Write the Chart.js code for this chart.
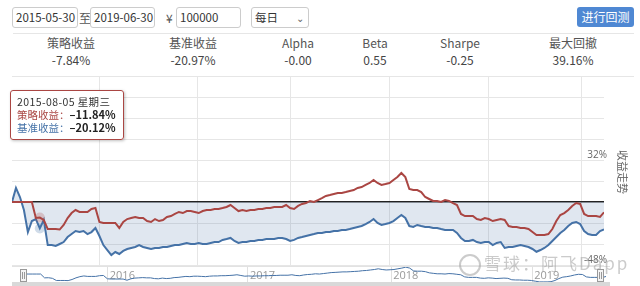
<!DOCTYPE html>
<html>
<head>
<meta charset="utf-8">
<script src="https://cdn.jsdelivr.net/npm/chart.js@4.4.0/dist/chart.umd.min.js"></script>
<style>
    body { margin: 0; width: 640px; height: 286px; overflow: hidden; background: #fff; position: relative;
           font-family: "Noto Sans CJK SC", "Open Sans", sans-serif; color: #444; }
    .box { position: absolute; top: 7px; height: 21px; line-height: 19px; border: 1px solid #ccc; border-radius: 3px;
           box-sizing: border-box; font-size: 11.5px; color: #333; padding-left: 3px; white-space: nowrap; overflow: hidden; }
    .txt { position: absolute; top: 7px; line-height: 21px; font-size: 12px; color: #555; }
    .btn { position: absolute; left: 577px; top: 7px; width: 57px; height: 20px; line-height: 20px; border-radius: 3px;
           background: #4f88d3; color: #fff; font-size: 12px; text-align: center; }
    .sep { position: absolute; left: 13px; width: 621px; height: 1px; background: #e6e6e6; }
    .stat { position: absolute; width: 100px; text-align: center; font-size: 12px; color: #555; }
    #mainWrap { position: absolute; left: 0; top: 56px; }
    #navWrap { position: absolute; left: 0; top: 262px; }
    #tip { position: absolute; left: 10px; top: 90px; padding: 4px 7px 5px 6px; background: rgba(255,255,255,0.92);
           border: 1px solid #AA4643; border-radius: 3px; box-shadow: 1px 1px 3px rgba(0,0,0,0.25);
           font-size: 10.5px; line-height: 13px; color: #333; z-index: 5; white-space: nowrap; }
    #tip b { color: #222; font-size: 11px; }
    .axisTitle { position: absolute; left: 598px; top: 164px; width: 50px; text-align: center; font-size: 11px;
                 color: #666; transform: rotate(90deg); white-space: nowrap; }
    .handle { position: absolute; top: 269px; width: 5px; height: 11px; border: 1px solid #999; background: #f4f4f4; }
    .handle:after { content: ""; position: absolute; left: 1px; top: 2px; width: 1px; height: 7px; border-left: 1px solid #999; border-right: 1px solid #999; }
    #scroll { position: absolute; left: 12px; top: 282px; width: 598px; height: 4px; background: #d9d9d9; }
    #navTop { position: absolute; left: 12px; top: 266px; width: 598px; height: 1px; background: #e2e2e2; }
    .mark { position: absolute; left: 484px; top: 250px; font-size: 17px; letter-spacing: 2px; color: rgba(160,160,160,0.55); z-index: 4; white-space: nowrap; }
    .logo { position: absolute; left: 459px; top: 254px; width: 18px; height: 18px; border: 2px solid rgba(160,160,160,0.55); border-radius: 50%; z-index: 4; }
</style>
</head>
<body>

<div class="box" style="left:12px;width:66px;">2015-05-30</div>
<div class="txt" style="left:79px;">至</div>
<div class="box" style="left:90px;width:65px;">2019-06-30</div>
<div class="txt" style="left:166px;">¥</div>
<div class="box" style="left:176px;width:65px;">100000</div>
<div class="box" style="left:251px;width:58px;">每日<span style="position:absolute;left:44px;top:0;color:#666;font-size:10px;">&#8964;</span></div>
<div class="btn">进行回测</div>

<div class="sep" style="top:33px;"></div>
<div id="stats"></div>

<div id="mainWrap"><canvas id="mainChart" width="640" height="230"></canvas></div>
<div id="navTop"></div>
<div id="navWrap"><canvas id="navChart" width="640" height="24"></canvas></div>
<div id="scroll"></div>
<div class="handle" style="left:20px;"></div>
<div class="handle" style="left:597px;"></div>

<div class="axisTitle">收益走势</div>
<div id="tip"></div>
<div class="logo"></div>
<div class="mark">雪球：阿飞Dapp</div>

<script>
// summary figures under the date inputs
const statNames = ['策略收益', '基准收益', 'Alpha', 'Beta', 'Sharpe', '最大回撤'];
const statValues = ['-7.84%', '-20.97%', '-0.00', '0.55', '-0.25', '39.16%'];

// returns in %, one sample roughly every week of trading days
const strategy = [
    0, 0, 0, 0, 0, 0, -12.2, -11.84, -13.7, -20.6,
    -20.6, -20.6, -21.0, -17.5, -12.2, -8.4, -6.1, -7.6, -7.6, -7.6,
    -5.3, -4.6, -15.2, -16.0, -16.0, -16.0, -16.0, -19.8, -15.2, -13.0,
    -12.2, -11.4, -12.2, -12.2, -14.5, -15.2, -13.0, -14.5, -13.7, -11.4,
    -10.7, -9.1, -7.6, -8.4, -6.9, -6.9, -7.6, -8.4, -6.9, -6.1,
    -6.1, -5.3, -5.3, -4.6, -3.8, -2.3, -4.6, -6.9, -6.1, -6.9,
    -6.1, -6.1, -5.3, -5.3, -4.6, -4.6, -3.8, -3.8, -3.8, -2.3,
    -4.6, -5.3, -3.0, -1.5, -0.8, 0.8, 0, 1.5, 3.0, 4.6,
    5.3, 6.1, 6.9, 6.9, 7.6, 8.4, 9.1, 10.7, 11.4, 13.0,
    14.5, 16.8, 14.5, 13.0, 13.7, 14.5, 16.8, 19.0, 22.1, 19.0,
    9.9, 9.1, 9.1, 7.6, 3.8, 2.3, 0.8, 0.8, 0, 1.5,
    0.8, -0.8, -2.3, -9.1, -10.7, -10.7, -10.7, -13.0, -13.7, -12.2,
    -13.0, -14.5, -13.7, -13.0, -13.7, -18.3, -19.0, -19.0, -19.8, -19.8,
    -20.6, -22.9, -25.1, -25.1, -25.1, -24.4, -20.6, -14.5, -9.9, -8.4,
    -6.1, -3.0, -0.8, -1.5, -9.1, -10.7, -10.7, -10.7, -11.4, -7.84
];
const benchmark = [
    0, 10.7, 3.8, -6.1, -22.9, -14.5, -13.0, -20.12, -13.7, -32.8,
    -32.8, -33.5, -32.0, -30.5, -26.7, -24.4, -22.1, -22.9, -22.1, -24.4,
    -22.9, -19.8, -25.9, -32.8, -36.6, -40.4, -38.1, -39.6, -37.3, -35.8,
    -35.0, -34.3, -32.8, -34.3, -35.0, -35.8, -35.0, -35.0, -34.3, -34.3,
    -33.5, -32.8, -32.8, -32.0, -31.2, -32.0, -32.0, -31.2, -32.0, -32.0,
    -31.2, -30.5, -30.5, -28.9, -28.2, -27.4, -29.7, -31.2, -30.5, -30.5,
    -29.7, -29.7, -28.9, -28.9, -28.2, -28.2, -28.2, -27.4, -27.4, -28.2,
    -29.7, -28.9, -27.4, -26.7, -25.9, -25.1, -24.4, -23.6, -23.6, -22.9,
    -22.9, -22.1, -22.1, -21.3, -21.3, -20.6, -19.8, -19.0, -18.3, -16.8,
    -15.2, -13.0, -16.0, -17.5, -16.8, -16.0, -14.5, -12.2, -9.9, -12.2,
    -18.3, -19.0, -17.5, -18.3, -19.0, -19.0, -19.8, -19.8, -20.6, -21.3,
    -21.3, -21.3, -23.6, -27.4, -29.7, -29.7, -28.9, -30.5, -31.2, -30.5,
    -30.5, -32.8, -31.2, -30.5, -35.0, -34.3, -34.3, -33.5, -32.8, -33.5,
    -34.3, -35.8, -37.9, -36.6, -35.0, -32.8, -29.7, -26.7, -23.6, -21.3,
    -18.3, -16.0, -15.2, -16.8, -22.1, -24.4, -25.1, -25.1, -22.1, -20.97
];

// sample positions of the vertical grid lines and the navigator years
const gridIdx = [22, 46.6, 70, 95, 120, 143.3];
const yearIdx = [22.1, 57.8, 94.3, 130.2];
const yearLabels = ['2016', '2017', '2018', '2019'];

const seriesNames = ['策略收益', '基准收益'];
const seriesColors = ['#AA4643', '#4572A7'];
const tipTitle = '2015-08-05 星期三';
const tipIndex = 7;

// stats row
const statX = [71, 193, 298, 375, 460, 573];
let statHtml = '';
statNames.forEach(function(name, i) {
    statHtml += `<div class="stat" style="left:${statX[i] - 50}px;top:34px;">${name}</div>`;
    statHtml += `<div class="stat" style="left:${statX[i] - 50}px;top:51px;color:#444;">${statValues[i]}</div>`;
});
statHtml += '<div class="sep" style="top:76px;"></div>';
document.getElementById('stats').innerHTML = statHtml;

const toPoints = arr => arr.map((v, i) => ({ x: i, y: v }));
const fmt = v => (v < 0 ? '–' : '') + Math.abs(v).toFixed(2) + '%';

function renderTip(context) {
    const tip = context.tooltip;
    const el = document.getElementById('tip');
    if (!tip.dataPoints || !tip.dataPoints.length) return;
    let html = `<div style="letter-spacing:0.4px">${tipTitle}</div>`;
    tip.dataPoints.forEach(function(p) {
        html += `<div><span style="color:${seriesColors[p.datasetIndex]}">${seriesNames[p.datasetIndex]}：</span><b>${fmt(p.parsed.y)}</b></div>`;
    });
    el.innerHTML = html;
}

const mainChart = new Chart(document.getElementById('mainChart').getContext('2d'), {
    type: 'line',
    data: {
        datasets: [{
            label: seriesNames[0],
            data: toPoints(strategy),
            borderColor: seriesColors[0],
            borderWidth: 2,
            pointRadius: 0,
            pointHoverRadius: 5,
            pointHoverBorderWidth: 0,
            pointHoverBackgroundColor: 'rgba(170,70,67,0.25)',
            fill: false,
            tension: 0
        }, {
            label: seriesNames[1],
            data: toPoints(benchmark),
            borderColor: seriesColors[1],
            borderWidth: 2,
            pointRadius: 0,
            pointHoverRadius: 5,
            pointHoverBorderWidth: 0,
            pointHoverBackgroundColor: 'rgba(69,114,167,0.25)',
            backgroundColor: 'rgba(69,114,167,0.17)',
            fill: { target: { value: 0 } },
            tension: 0
        }]
    },
    options: {
        responsive: false,
        animation: false,
        events: [],
        layout: { padding: { left: 12, right: 30, top: 20, bottom: 21 } },
        interaction: { mode: 'index', intersect: false },
        plugins: {
            legend: { display: false },
            tooltip: { enabled: false, external: renderTip }
        },
        scales: {
            x: {
                type: 'linear',
                min: 0,
                max: strategy.length - 1,
                afterBuildTicks: function(scale) {
                    scale.ticks = gridIdx.map(v => ({ value: v }));
                },
                ticks: { display: false },
                grid: { color: '#e6e6e6', drawTicks: false },
                border: { display: false }
            },
            y: {
                position: 'right',
                min: -48,
                max: 96,
                ticks: {
                    stepSize: 16,
                    mirror: true,
                    padding: 3,
                    labelOffset: -5,
                    color: '#666',
                    font: { size: 10, family: 'Open Sans' },
                    callback: v => (v === 32 || v === -48) ? v + '%' : ''
                },
                grid: {
                    drawTicks: false,
                    color: ctx => ctx.tick && ctx.tick.value === 0 ? '#222' : '#e6e6e6',
                    lineWidth: ctx => ctx.tick && ctx.tick.value === 0 ? 1.5 : 1
                },
                border: { display: false }
            }
        }
    }
});

// show the hover state of 2015-08-05
const activePts = [{ datasetIndex: 0, index: tipIndex }, { datasetIndex: 1, index: tipIndex }];
mainChart.tooltip.setActiveElements(activePts, { x: 40, y: 218 });
mainChart.setActiveElements(activePts);
mainChart.update();

// navigator below the main plot
new Chart(document.getElementById('navChart').getContext('2d'), {
    type: 'line',
    data: {
        datasets: [{
            data: toPoints(strategy),
            borderColor: '#4572A7',
            borderWidth: 1,
            pointRadius: 0,
            fill: false,
            tension: 0
        }]
    },
    options: {
        responsive: false,
        animation: false,
        events: [],
        layout: { padding: { left: 21, right: 34, top: 5, bottom: 4 } },
        plugins: { legend: { display: false }, tooltip: { enabled: false } },
        scales: {
            x: {
                type: 'linear',
                min: 0,
                max: strategy.length - 1,
                afterBuildTicks: function(scale) {
                    scale.ticks = yearIdx.map(v => ({ value: v }));
                },
                ticks: {
                    align: 'start',
                    padding: -13,
                    labelOffset: 2,
                    color: '#999',
                    font: { size: 11, family: 'Open Sans' },
                    callback: function(v, i) { return yearLabels[i]; }
                },
                grid: { color: '#e0e0e0', drawTicks: false },
                border: { display: false }
            },
            y: {
                display: false,
                min: -25.5,
                max: 22.5
            }
        }
    }
});
</script>
</body>
</html>
